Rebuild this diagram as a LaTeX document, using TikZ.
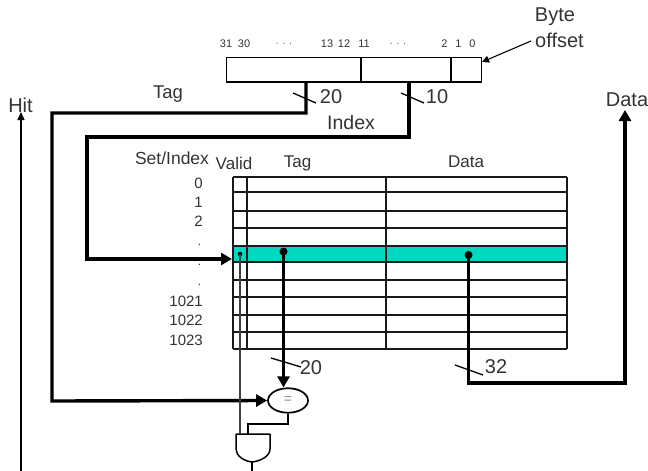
\documentclass[tikz,border=0pt]{standalone}
\usepackage{fontspec}
\setmainfont{Liberation Sans}
\usetikzlibrary{arrows.meta,shapes.geometric}
\definecolor{teal1}{HTML}{00D8C0}
\definecolor{txt}{HTML}{333333}
\newcommand{\fs}[1]{\fontsize{#1}{#1}\selectfont}
\tikzset{
 x=1pt,y=-1pt,
 lab/.style={inner sep=0pt,text=txt,font=\fs{20}},
 num/.style={inner sep=0pt,anchor=east,text=txt,font=\fs{15}},
 bit/.style={inner sep=0pt,text=txt,font=\fs{11}},
 bus/.style={line width=3.4pt,line join=miter,-{Triangle[length=11pt,width=12pt]}},
 thin1/.style={line width=1.5pt},
 grid1/.style={line width=1.8pt,draw=black!90},
 slash/.style={line width=1.3pt},
 dotn/.style={circle,fill=black,inner sep=0pt,minimum size=#1},
}
\begin{document}
\begin{tikzpicture}
\useasboundingbox (0,0) rectangle (648,471);
% address box
\node[draw=black,line width=1.7pt,minimum width=255pt,minimum height=24.5pt,inner sep=0pt,anchor=north west] (addr) at (225.7,56.7) {};
\draw[thin1] (361,57) coordinate (a1) -- (361,81) coordinate (a2);
\draw[thin1] (451,58) coordinate (a3) -- (451,81) coordinate (a4);
\foreach \t/\x in {31/226,30/244,13/327,12/344,11/364,2/444.5,1/458.5,0/472.5}
  \node[bit] at (\x,44) {\t};
\node[bit,text=black!55] at (284,44) {.\,\,.\,\,.};
\node[bit,text=black!55] at (398,44) {.\,\,.\,\,.};
% byte offset
\node[lab] (byte) at (555,17) {Byte};
\node[lab] (offset) at (559.5,40) {offset};
\coordinate (b0) at (531,41);
\coordinate (b1) at (482,62);
\draw[line width=1.1pt,-{Triangle[length=7pt,width=7pt]}] (b0) -- (b1);
% table
\fill[teal1] (233,246) rectangle (567,262);
\foreach \y in {177,192.3,211,228.3,245.7,262.3,280,297.3,314.7,332,349.3}
  \draw[grid1] (233,\y) -- (567,\y);
\draw[grid1] (233.3,177) -- (233.3,349.3);
\draw[grid1] (247.3,177) -- (247.3,349.3);
\draw[grid1] (386,177) -- (386,349.3);
\draw[grid1] (567,177) -- (567,349.3);
% headers
\node[lab,font=\fs{17.5}] (si) at (172,158.5) {Set/Index};
\node[lab,font=\fs{17}] (valid) at (234,163) {Valid};
\node[lab,font=\fs{17}] (tagh) at (297.5,163) {Tag};
\node[lab,font=\fs{17}] (datah) at (466,162) {Data};
\foreach \t/\y in {0/183,1/202,2/221,1021/301,1022/320,1023/340}
  \node[num] at (203,\y) {\t};
\foreach \y in {245,265,285}
  \node[num,font=\fs{12}] at (201.5,\y) {.};
% labels
\node[lab,font=\fs{18.5}] (tagl) at (168,94) {Tag};
\node[lab,font=\fs{19.5}] (indexl) at (351,123) {Index};
\node[lab] (n20) at (331,96.5) {20};
\node[lab] (n10) at (437,96.5) {10};
\node[lab] (hit) at (20.5,105) {Hit};
\node[lab] (datal) at (627,100) {Data};
\node[lab] (n20b) at (311,368) {20};
\node[lab] (n32) at (496,367) {32};
% comparator and gate
\node[ellipse,draw=black,line width=1.7pt,minimum width=40pt,minimum height=24.5pt,inner sep=0pt,fill=white] (eq) at (288,400.5) {};
\node[inner sep=0pt,text=black!45,font=\fs{14}] at (eq) {=};
\coordinate (gl) at (236,434);
\coordinate (gr) at (270,434);
\coordinate (go) at (252,462);
\draw[line width=1.5pt,line join=round] (gr) -- (gl) -- (236,449) .. controls (236,456) and (244,461) .. (go) .. controls (261,461) and (270,456) .. (270,449) -- (gr);
% dots
\node[dotn=4.5pt] (dv) at (240,254) {};
\node[dotn=8pt] (dt) at (283.5,251.5) {};
\node[dotn=8pt] (dd) at (468.5,255) {};
% buses
\coordinate (tagstart) at (306,81);
\coordinate (idxstart) at (409,81);
\coordinate (idxend) at (232,259);
\coordinate (hitstart) at (21,471);
\coordinate (hitend) at (21,112);
\coordinate (dataend) at (625,110);
\coordinate (outb) at (252,471);
\draw[bus] (tagstart) -- (306,113) -- (52,113) -- (52,401) -- (eq.west);
\draw[bus] (idxstart) -- (409,137) -- (87,137) -- (87,259) -- (idxend);
\draw[bus] (dt.center) -- (eq.north -| dt.center);
\draw[bus] (dd.center) -- (468.5,383) -- (625,383) -- (dataend);
% thin wires
\draw[line width=1.3pt,draw=black!75] (dv.center) -- (240,434);
\draw[line width=1.5pt] (eq.south) -- (288,424) -- (248,424) -- (248,434);
\draw[line width=1.5pt] (go) -- (outb);
\draw[line width=1.3pt,-{Triangle[length=8pt,width=7pt]}] (hitstart) -- (hitend);
% bus slashes
\draw[slash] (293,93) coordinate (s1a) -- (316,103) coordinate (s1b);
\draw[slash] (401,93) coordinate (s2a) -- (424,103) coordinate (s2b);
\draw[slash] (271,358) coordinate (s3a) -- (301,367) coordinate (s3b);
\draw[slash] (455,365) coordinate (s4a) -- (483,375) coordinate (s4b);
\end{tikzpicture}
\end{document}
